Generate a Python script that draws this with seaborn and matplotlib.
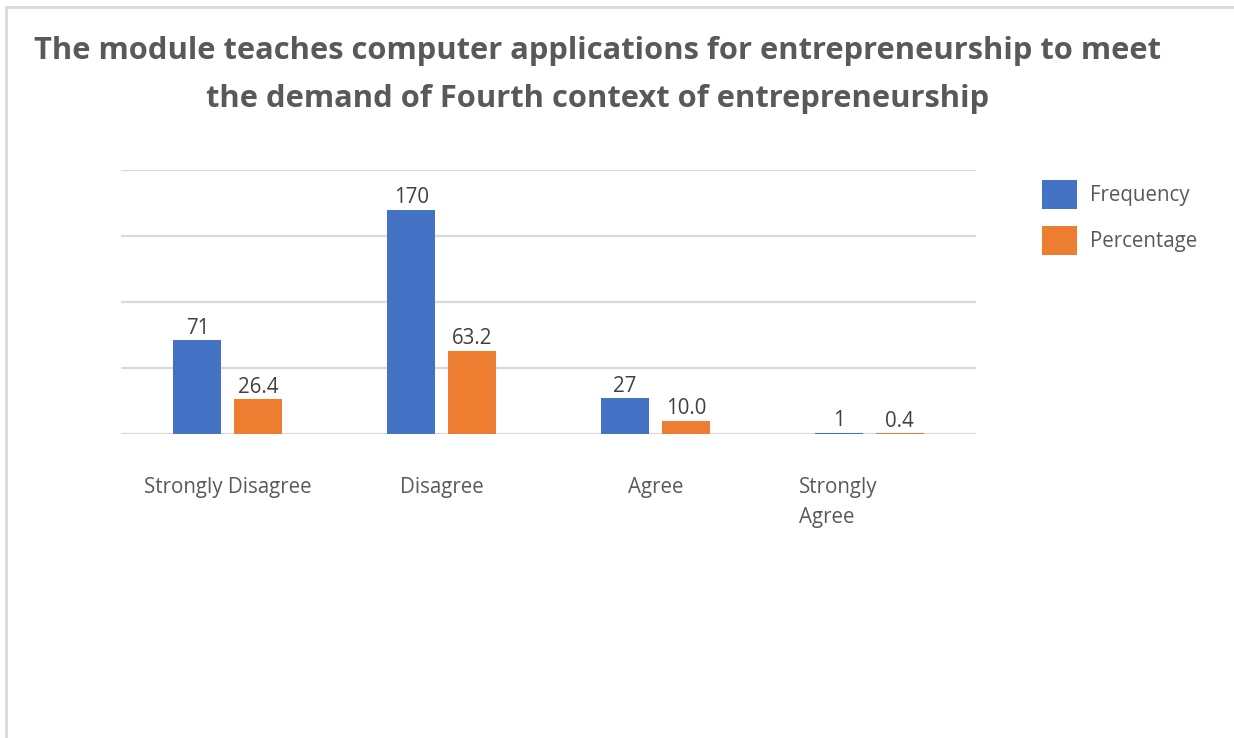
import matplotlib
matplotlib.use("Agg")
import matplotlib.pyplot as plt
import matplotlib.transforms as mtransforms
from matplotlib.lines import Line2D
from matplotlib.patches import Patch
import seaborn as sns
import pandas as pd

categories = ["Strongly Disagree", "Disagree", "Agree", "Strongly Agree"]
tick_labels = ["Strongly Disagree", "Disagree", "Agree", "Strongly\nAgree"]
frequency = [71, 170, 27, 1]
percentage = [26.4, 63.2, 10.0, 0.4]
series_names = ["Frequency", "Percentage"]
title = ("The module teaches computer applications for entrepreneurship to meet\n"
         "the demand of Fourth context of entrepreneurship")

BLUE = "#4472C4"
ORANGE = "#ED7D31"
TEXT = "#595959"
GRID = "#D9D9D9"
FS = 14.8

sns.set_theme(style="white")
plt.rcParams["font.family"] = ["Open Sans", "DejaVu Sans"]

df = pd.DataFrame({
    "category": categories * 2,
    "series": [series_names[0]] * len(categories) + [series_names[1]] * len(categories),
    "value": frequency + percentage,
})

W, H = 1234, 738
fig = plt.figure(figsize=(W / 100, H / 100), dpi=100)
ax = fig.add_axes([121 / W, 1 - 434 / H, (976 - 121) / W, (434 - 170) / H])

sns.barplot(data=df, x="category", y="value", hue="series", order=categories,
            hue_order=series_names, palette=[BLUE, ORANGE], width=0.57, gap=0.21,
            saturation=1, legend=False, linewidth=0, ax=ax)

ax.set_ylim(0, 200)
ax.set_yticks([0, 50, 100, 150, 200])
ax.yaxis.grid(True, color=GRID, linewidth=1.6)
ax.set_axisbelow(True)
ax.tick_params(axis="y", left=False, labelleft=False)
ax.tick_params(axis="x", bottom=False, pad=25, labelsize=FS, labelcolor=TEXT)
for s in ax.spines.values():
    s.set_visible(False)
ax.set_xlabel("")
ax.set_ylabel("")
ax.set_xticks(range(len(categories)))
ax.set_xticklabels(tick_labels)
for lbl in ax.get_xticklabels():
    lbl.set_multialignment("left")
    lbl.set_linespacing(1.55)
last = ax.get_xticklabels()[-1]
last.set_transform(last.get_transform() + mtransforms.ScaledTranslation(-0.31, 0, fig.dpi_scale_trans))

# value labels above each bar
for container, fmt in zip(ax.containers, ["{:.0f}", "{:.1f}"]):
    ax.bar_label(container, labels=[fmt.format(b.get_height()) for b in container],
                 padding=1, fontsize=FS, color="#404040")

fig.text(598 / W, 1 - 75 / H, title, ha="center", va="center", fontsize=22.2,
         fontweight="bold", color=TEXT, linespacing=1.76)

handles = [Patch(facecolor=BLUE, edgecolor="none"), Patch(facecolor=ORANGE, edgecolor="none")]
fig.legend(handles, series_names, loc="upper left", bbox_to_anchor=(1042 / W, 1 - 180 / H),
           frameon=False, fontsize=FS, labelcolor=TEXT, handlelength=1.7, handleheight=1.8,
           handletextpad=0.62, labelspacing=0.8, borderpad=0, borderaxespad=0)

# light frame along the top and left edges
fig.add_artist(Line2D([6 / W, 1], [1 - 7 / H, 1 - 7 / H], color=GRID, linewidth=2,
                      transform=fig.transFigure))
fig.add_artist(Line2D([6 / W, 6 / W], [0, 1 - 7 / H], color=GRID, linewidth=2,
                      transform=fig.transFigure))

fig.savefig("out.png", dpi=100, facecolor="white")
